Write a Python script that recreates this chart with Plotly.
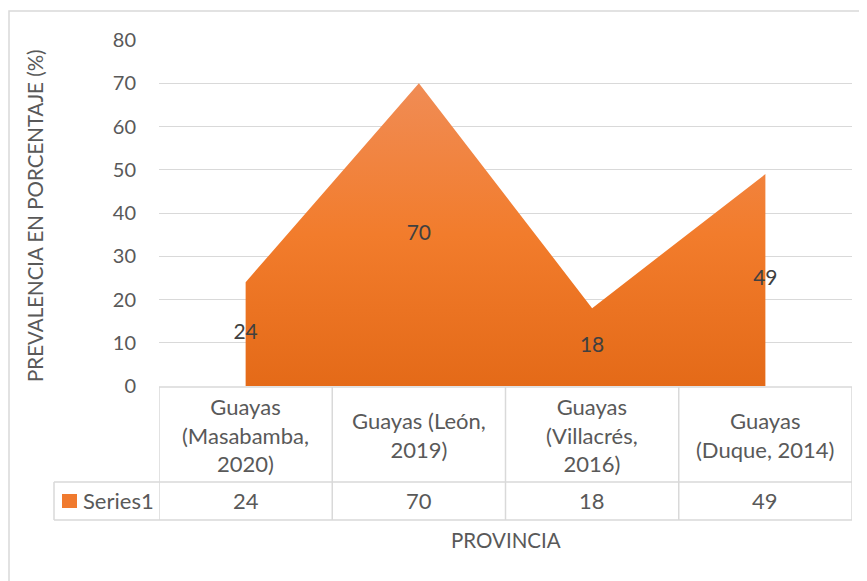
import plotly.graph_objects as go

categories = ["Guayas<br>(Masabamba,<br>2020)", "Guayas (León,<br>2019)",
              "Guayas<br>(Villacrés,<br>2016)", "Guayas<br>(Duque, 2014)"]
values = [24, 70, 18, 49]
series_name = "Series1"
y_ticks = [0, 10, 20, 30, 40, 50, 60, 70, 80]
y_title = "PREVALENCIA EN PORCENTAJE (%)"
x_title = "PROVINCIA"

# the page body adds an 8px margin, so the figure is 8px smaller than the window
OFF = 8
W, H = 867 - OFF, 581 - OFF
L, T = 159 - OFF, 40 - OFF
R = W - (852 - OFF)
B = H - (386 - OFF)
pw, ph = W - L - R, H - T - B

def px(xp):  # page pixel -> paper x
    return (xp - OFF - L) / pw

def py(yp):  # page pixel -> paper y
    return (H - B - (yp - OFF)) / ph

FONT = "Lato, Carlito, Calibri, sans-serif"
TXT = "#595959"
GRID = "#D9D9D9"

idx = list(range(len(values)))

fig = go.Figure()
fig.add_trace(go.Scatter(
    x=idx, y=values, mode="lines", fill="tozeroy",
    line=dict(width=0, color="#F07A2E"),
    fillgradient=dict(type="vertical",
                      colorscale=[[0, "#E46A18"], [0.5, "#F27C2C"], [1, "#F08C55"]]),
    hoverinfo="skip", showlegend=False))
fig.add_trace(go.Scatter(
    x=idx, y=[v / 2 for v in values], mode="text",
    text=[str(v) for v in values],
    textfont=dict(family=FONT, size=21, color="#404040"),
    hoverinfo="skip", showlegend=False))

fig.update_layout(
    width=W, height=H,
    margin=dict(l=L, r=R, t=T, b=B),
    paper_bgcolor="white", plot_bgcolor="white",
    font=dict(family=FONT, color=TXT, size=20),
    xaxis=dict(range=[-0.5, len(values) - 0.5], showticklabels=False,
               showgrid=False, zeroline=False, ticks="", fixedrange=True),
    yaxis=dict(range=[0, 80], tickvals=y_ticks, showgrid=True, gridcolor=GRID,
               gridwidth=1.3, zeroline=False, ticks="", ticklabelstandoff=22,
               tickfont=dict(family=FONT, size=20, color=TXT), fixedrange=True),
    showlegend=False,
)

shapes = []
line = dict(color=GRID, width=1.5)
y_top, y_mid, y_bot = py(387), py(482), py(520)
x_left_legend = px(54)
# column lines
for k in range(len(values) + 1):
    shapes.append(dict(type="line", xref="x", yref="paper", x0=k - 0.5, x1=k - 0.5,
                       y0=y_top, y1=y_bot, line=line))
# horizontal lines
shapes.append(dict(type="line", xref="x", yref="paper", x0=-0.5, x1=len(values) - 0.5,
                   y0=y_top, y1=y_top, line=line))
for yy in (y_mid, y_bot):
    shapes.append(dict(type="line", xref="paper", yref="paper", x0=x_left_legend, x1=1,
                       y0=yy, y1=yy, line=line))
shapes.append(dict(type="line", xref="paper", yref="paper", x0=x_left_legend, x1=x_left_legend,
                   y0=y_mid, y1=y_bot, line=line))
# legend key
shapes.append(dict(type="rect", xref="paper", yref="paper", x0=px(62), x1=px(77),
                   y0=py(508), y1=py(494), fillcolor="#F07A2E", line=dict(width=0)))
# outer border
shapes.append(dict(type="rect", xref="paper", yref="paper", x0=px(9), x1=px(880),
                   y0=py(595), y1=py(11), line=dict(color=GRID, width=1.5),
                   fillcolor="rgba(0,0,0,0)", layer="below"))
fig.update_layout(shapes=shapes)

ann = []
for i, c in enumerate(categories):
    ann.append(dict(xref="x", yref="paper", x=i, y=py(435), text=c, showarrow=False,
                    xanchor="center", yanchor="middle",
                    font=dict(family=FONT, size=22, color=TXT)))
    ann.append(dict(xref="x", yref="paper", x=i, y=py(500), text=str(values[i]),
                    showarrow=False, xanchor="center", yanchor="middle",
                    font=dict(family=FONT, size=22, color=TXT)))
ann.append(dict(xref="paper", yref="paper", x=px(81), y=py(500), text=series_name,
                showarrow=False, xanchor="left", yanchor="middle",
                font=dict(family=FONT, size=22, color=TXT)))
ann.append(dict(xref="paper", yref="paper", x=0.5, y=py(540), text=x_title,
                showarrow=False, xanchor="center", yanchor="middle",
                font=dict(family=FONT, size=20.5, color=TXT)))
ann.append(dict(xref="paper", yref="paper", x=px(35), y=py(216), text=y_title,
                showarrow=False, xanchor="center", yanchor="middle", textangle=-90,
                font=dict(family=FONT, size=20.5, color=TXT)))
fig.update_layout(annotations=ann)

fig.write_html("out.html")
